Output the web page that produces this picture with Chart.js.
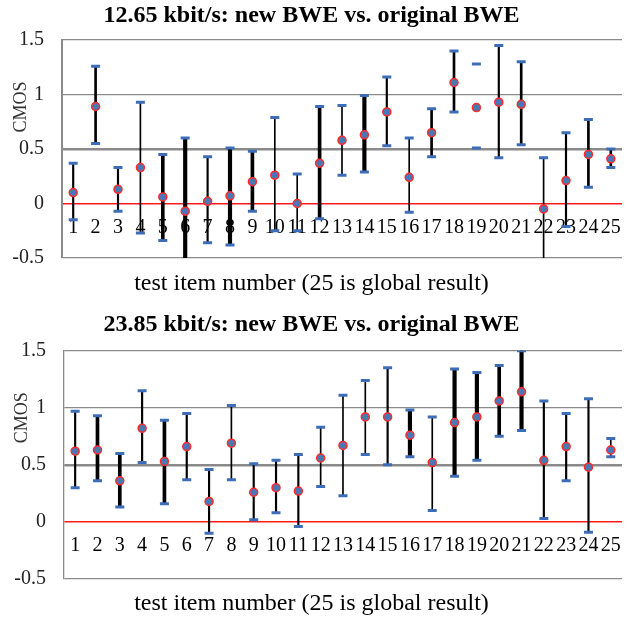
<!DOCTYPE html>
<html>
<head>
<meta charset="utf-8">
<script src="https://cdn.jsdelivr.net/npm/chart.js@4.4.1/dist/chart.umd.min.js"></script>
<style>
    html, body { margin: 0; padding: 0; background: #fff; }
    canvas { display: block; }
</style>
</head>
<body>
<canvas id="chart1" width="633" height="309"></canvas>
<canvas id="chart2" width="633" height="309"></canvas>
<script>
const items = ['1', '2', '3', '4', '5', '6', '7', '8', '9', '10', '11', '12', '13',
    '14', '15', '16', '17', '18', '19', '20', '21', '22', '23', '24', '25'];

// 12.65 kbit/s
const mean1265 = [0.10, 0.89, 0.13, 0.33, 0.06, -0.07, 0.02, 0.07, 0.20, 0.26, 0.00, 0.37, 0.58,
    0.63, 0.84, 0.24, 0.65, 1.11, 0.88, 0.93, 0.91, -0.05, 0.21, 0.45, 0.41];
const upper1265 = [0.37, 1.26, 0.33, 0.93, 0.45, 0.60, 0.43, 0.51, 0.48, 0.79, 0.27, 0.89, 0.90,
    0.99, 1.16, 0.60, 0.87, 1.40, 1.28, 1.45, 1.30, 0.42, 0.65, 0.77, 0.50];
const lower1265 = [-0.15, 0.55, -0.07, -0.27, -0.34, -0.70, -0.36, -0.38, -0.07, -0.25, -0.25, -0.14, 0.26,
    0.29, 0.53, -0.08, 0.43, 0.84, 0.51, 0.42, 0.54, -0.60, -0.21, 0.15, 0.33];

// 23.85 kbit/s
const mean2385 = [0.62, 0.63, 0.36, 0.82, 0.53, 0.66, 0.18, 0.69, 0.26, 0.30, 0.27, 0.56, 0.67,
    0.92, 0.92, 0.76, 0.52, 0.87, 0.92, 1.06, 1.14, 0.54, 0.66, 0.48, 0.63];
const upper2385 = [0.97, 0.93, 0.60, 1.15, 0.89, 0.95, 0.46, 1.02, 0.51, 0.54, 0.59, 0.83, 1.11,
    1.24, 1.35, 0.98, 0.92, 1.34, 1.31, 1.37, 1.50, 1.06, 0.95, 1.08, 0.73];
const lower2385 = [0.30, 0.36, 0.13, 0.52, 0.16, 0.37, -0.10, 0.37, 0.02, 0.08, -0.04, 0.31, 0.23,
    0.59, 0.50, 0.57, 0.10, 0.40, 0.54, 0.75, 0.80, 0.03, 0.36, -0.09, 0.57];

// line weight of each error bar (style only)
const weights1265 = [1.5, 2, 1.5, 1, 3, 3.5, 1.5, 3.5, 3, 1, 1, 3, 1, 3.5, 1.5, 1, 2, 2, 0, 1.5, 2, 1, 1.5, 2, 2];
const weights2385 = [1.5, 3, 3, 1.5, 3, 1.5, 1.5, 1, 1.5, 1.5, 1.5, 1, 1, 1, 1.5, 3.5, 1, 3.5, 3.5, 3, 3.5, 1.5, 1.5, 1.5, 1];

Chart.defaults.font.family = 'Liberation Serif';
Chart.defaults.color = '#000';

const gridGrey = '#8a8a8a';
const capBlue = '#3e6db8';

const yTitle = {
    id: 'yTitle',
    afterDraw(chart, args, opts) {
        const ctx = chart.ctx;
        ctx.save();
        ctx.font = '18px "Liberation Serif"';
        ctx.fillStyle = '#333';
        ctx.textAlign = 'center';
        ctx.textBaseline = 'middle';
        ctx.translate(opts.x, chart.chartArea.top + opts.dy);
        ctx.rotate(-Math.PI / 2);
        ctx.fillText('CMOS', 0, 0);
        ctx.restore();
    }
};

function makeChart(id, title, mean, upper, lower, weights, cfg) {
    const whiskers = [...new Set(weights)].filter(w => w > 0).map(w => ({
        type: 'bar',
        data: items.map((_, i) => weights[i] === w ? [lower[i], upper[i]] : null),
        backgroundColor: '#000',
        barThickness: w,
        grouped: false,
        order: 3
    }));

    const cap = values => ({
        type: 'line',
        data: values,
        showLine: false,
        pointStyle: 'line',
        pointRadius: 4.5,
        pointBorderWidth: 3,
        pointBorderColor: capBlue,
        order: 2
    });

    return new Chart(document.getElementById(id), {
        type: 'bar',
        plugins: [yTitle],
        data: {
            labels: items,
            datasets: [
                {
                    type: 'line',
                    data: mean,
                    showLine: false,
                    pointStyle: 'circle',
                    pointRadius: 4,
                    pointBackgroundColor: '#4a78b5',
                    pointBorderColor: '#ff2a2a',
                    pointBorderWidth: 1.5,
                    order: 1
                },
                cap(upper),
                cap(lower),
                ...whiskers
            ]
        },
        options: {
            responsive: false,
            animation: false,
            layout: { padding: { left: 0, right: 10, top: 0, bottom: 0 } },
            plugins: {
                legend: { display: false },
                tooltip: { enabled: false },
                title: {
                    display: true,
                    text: title,
                    font: { size: 24, weight: 'bold', lineHeight: 1.2 },
                    padding: { top: 1.6, bottom: cfg.titleGap }
                },
                subtitle: {
                    display: true,
                    position: 'bottom',
                    text: 'test item number (25 is global result)',
                    font: { size: 24, weight: 'normal', lineHeight: 1.2 },
                    padding: { top: cfg.subTop, bottom: cfg.subBottom }
                },
                yTitle: { x: cfg.titleX, dy: 67 }
            },
            scales: {
                x: {
                    position: { y: 0 },
                    offset: true,
                    grid: { display: false, drawTicks: false },
                    border: { display: false },
                    ticks: { autoSkip: false, maxRotation: 0, padding: 12, font: { size: 20 } }
                },
                y: {
                    min: -0.5,
                    max: 1.5,
                    afterFit(scale) { scale.width = cfg.axisLeft; },
                    ticks: {
                        stepSize: 0.5,
                        padding: 18,
                        font: { size: 20 },
                        color: '#222',
                        callback: v => String(v)
                    },
                    grid: {
                        drawTicks: false,
                        color: c => c.tick && c.tick.value === 0 ? '#ff1a1a' : gridGrey,
                        lineWidth: c => {
                            if (!c.tick) return 1;
                            if (c.tick.value === 0.5) return 2.5;
                            if (c.tick.value === 0) return 1.5;
                            return 1.3;
                        }
                    },
                    border: { color: gridGrey, width: cfg.borderWidth }
                }
            }
        }
    });
}

makeChart('chart1', '12.65 kbit/s: new BWE vs. original BWE',
    mean1265, upper1265, lower1265, weights1265,
    { titleGap: 9.6, subTop: 11.6, subBottom: 10.6, axisLeft: 62, titleX: 21, borderWidth: 2 });

makeChart('chart2', '23.85 kbit/s: new BWE vs. original BWE',
    mean2385, upper2385, lower2385, weights2385,
    { titleGap: 11.3, subTop: 10.2, subBottom: 0, axisLeft: 64, titleX: 22, borderWidth: 1.3 });
</script>
</body>
</html>
